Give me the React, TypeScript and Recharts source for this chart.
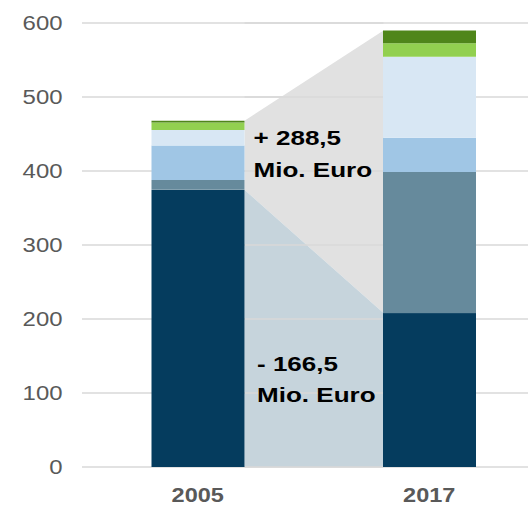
import React from 'react';
import { BarChart, Bar, XAxis, YAxis, CartesianGrid } from 'recharts';

const CATEGORIES = ['2005', '2017'];
const NAVY = [374.5, 208];
const GREY_BLUE = [13.5, 190.5];
const LIGHT_BLUE = [46.5, 46.5];
const PALE_BLUE = [21, 109.5];
const LIGHT_GREEN = [10, 18];
const DARK_GREEN = [2.5, 17.5];
const Y_TICKS = [0, 100, 200, 300, 400, 500, 600];
const INCREASE_LABEL = ['+ 288,5', 'Mio. Euro'];
const DECREASE_LABEL = ['- 166,5', 'Mio. Euro'];

const data = CATEGORIES.map((year, i) => ({
  year,
  navy: NAVY[i],
  greyBlue: GREY_BLUE[i],
  lightBlue: LIGHT_BLUE[i],
  paleBlue: PALE_BLUE[i],
  lightGreen: LIGHT_GREEN[i],
  darkGreen: DARK_GREEN[i],
}));

const total = (i: number) =>
  NAVY[i] + GREY_BLUE[i] + LIGHT_BLUE[i] + PALE_BLUE[i] + LIGHT_GREEN[i] + DARK_GREEN[i];

const GAP = 69.5;
const FONT = '"Liberation Sans", Arial, Helvetica, sans-serif';
const GRID = '#d9d9d9';

function StretchText({ x, y, children, scale = 1.24, ...rest }: any) {
  return (
    <text transform={`translate(${x},${y}) scale(${scale},1)`} x={0} y={0} {...rest}>
      {children}
    </text>
  );
}

function YTick(props: any) {
  const { x, y, payload } = props;
  return (
    <StretchText x={x} y={y} scale={1.14} textAnchor="end" dy="0.355em" fontSize={21} fill="#595959" fontFamily={FONT}>
      {payload.value}
    </StretchText>
  );
}

function XTick(props: any) {
  const { x, y, payload } = props;
  return (
    <StretchText x={x} y={y} scale={1.12} textAnchor="middle" dy="0.71em" fontSize={21} fontWeight={700} fill="#595959" fontFamily={FONT}>
      {payload.value}
    </StretchText>
  );
}

function NavyShape(props: any) {
  const { x, y, width, height, index, fill } = props;
  const rect = <rect x={x} y={y} width={width} height={height} fill={fill} />;
  if (index !== 0) return rect;
  const base = y + height;
  const k = height / NAVY[0];
  const yOf = (v: number) => base - v * k;
  const x0 = x + width;
  const x1 = x + width + 2 * GAP;
  const t0 = yOf(total(0));
  const t1 = yOf(total(1));
  const n0 = yOf(NAVY[0]);
  const n1 = yOf(NAVY[1]);
  const textStyle = { fontFamily: FONT, fontWeight: 700, fontSize: 21, fill: '#000' };
  return (
    <g>
      <polygon points={`${x0},${t0} ${x1},${t1} ${x1},${n1} ${x0},${n0}`} fill="#e1e1e1" />
      <polygon points={`${x0},${n0} ${x1},${n1} ${x1},${base} ${x0},${base}`} fill="#c6d4dc" />
      {Y_TICKS.map((t) => (
        <line key={t} x1={x0} x2={x1} y1={yOf(t)} y2={yOf(t)} stroke={GRID} strokeWidth={1.5} />
      ))}
      <StretchText x={x0 + 9} y={yOf(435)} {...textStyle}>{INCREASE_LABEL[0]}</StretchText>
      <StretchText x={x0 + 9} y={yOf(392)} {...textStyle}>{INCREASE_LABEL[1]}</StretchText>
      <StretchText x={x0 + 12.5} y={yOf(129.5)} {...textStyle}>{DECREASE_LABEL[0]}</StretchText>
      <StretchText x={x0 + 12.5} y={yOf(88)} {...textStyle}>{DECREASE_LABEL[1]}</StretchText>
      {rect}
    </g>
  );
}

export default function App() {
  return (
    <div style={{ position: 'fixed', left: 0, top: 0, width: 528, height: 507, overflow: 'hidden', background: '#fff' }}>
      <BarChart
        width={560}
        height={507}
        data={data}
        margin={{ top: 23, right: 15, bottom: 10, left: 0 }}
        barCategoryGap={GAP}
        style={{ fontFamily: FONT }}
      >
        <CartesianGrid vertical={false} stroke={GRID} strokeWidth={1.5} />
        <XAxis
          dataKey="year"
          axisLine={false}
          tickLine={false}
          tickMargin={14.5}
          height={30}
          tick={<XTick />}
        />
        <YAxis
          domain={[0, 600]}
          ticks={Y_TICKS}
          width={82}
          axisLine={false}
          tickLine={false}
          tickMargin={13.5}
          tick={<YTick />}
        />
        <Bar dataKey="navy" stackId="a" fill="#053c5e" shape={NavyShape} isAnimationActive={false} />
        <Bar dataKey="greyBlue" stackId="a" fill="#668a9c" isAnimationActive={false} />
        <Bar dataKey="lightBlue" stackId="a" fill="#a0c6e5" isAnimationActive={false} />
        <Bar dataKey="paleBlue" stackId="a" fill="#d8e7f4" isAnimationActive={false} />
        <Bar dataKey="lightGreen" stackId="a" fill="#92d050" isAnimationActive={false} />
        <Bar dataKey="darkGreen" stackId="a" fill="#4f861a" isAnimationActive={false} />
      </BarChart>
    </div>
  );
}
